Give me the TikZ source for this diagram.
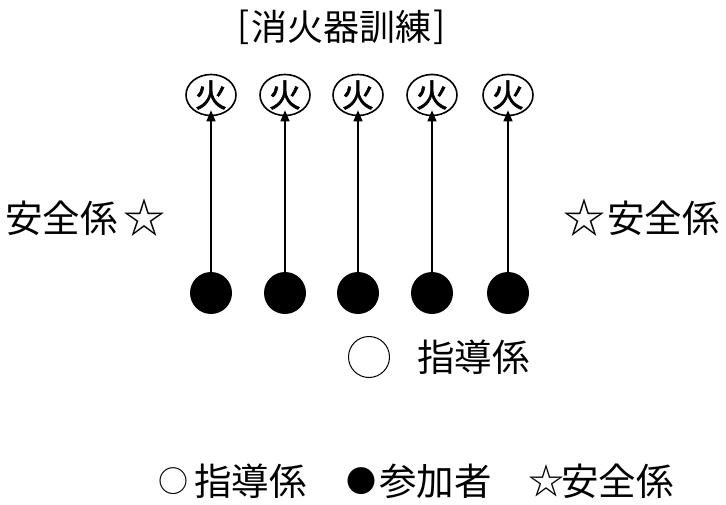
\documentclass[tikz,border=0pt]{standalone}
\usepackage{fontspec}
\setmainfont{Noto Sans CJK JP}
\newfontfamily\firefont[FakeBold=1.6]{Noto Sans CJK JP}
\usetikzlibrary{shapes.geometric,arrows.meta}
\begin{document}
\begin{tikzpicture}[x=1pt,y=-1pt,
  big/.style={font=\fontsize{37.5}{37.5}\selectfont, inner sep=0pt},
  sym/.style={font=\fontsize{42}{42}\selectfont, inner sep=0pt},
  legsym/.style={font=\fontsize{30}{30}\selectfont, inner sep=0pt},
  fire/.style={draw, line width=1.6pt, ellipse, minimum width=50pt, minimum height=37pt, inner sep=0pt, font=\firefont\fontsize{32}{32}\selectfont},
  person/.style={circle, fill=black, minimum size=42pt, inner sep=0pt},
  lead/.style={circle, draw, line width=1pt, minimum size=41pt, inner sep=0pt},
  arr/.style={line width=1.3pt, -{Triangle[length=11pt,width=9pt]}, shorten >=1pt}]
\useasboundingbox (0,0) rectangle (726,505);
\node[font=\fontsize{36}{36}\selectfont, inner sep=0pt] (title) at (341,27) {消火器訓練};
\node[font=\fontsize{36}{36}\selectfont, inner sep=0pt, anchor=east] (tl) at (250,27) {[};
\node[font=\fontsize{36}{36}\selectfont, inner sep=0pt, anchor=west] (tr) at (433,27) {]};
\foreach \i/\x in {1/211,2/285,3/358,4/432,5/508}{
  \node[fire] (f\i) at (\x,95) {火};
  \node[person] (p\i) at (\x,293) {};
  \draw[arr] (p\i.north) -- ([yshift=7pt]f\i.south);
}
\node[lead] (lead) at (369,357) {};
\node[big, anchor=west] (leadtxt) at (417,357) {指導係};
\node[big, anchor=west] (safeL) at (5,218) {安全係};
\node[sym] (starL) at (144,218) {☆};
\node[sym] (starR) at (584,218) {☆};
\node[big, anchor=east] (safeR) at (720,218) {安全係};
\node[legsym] (legA) at (173,481) {○};
\node[big, anchor=west] (legAt) at (194,481) {指導係};
\node[legsym] (legB) at (361,481) {●};
\node[big, anchor=west] (legBt) at (379,481) {参加者};
\node[font=\fontsize{36}{36}\selectfont, inner sep=0pt] (legC) at (546,481) {☆};
\node[big, anchor=west] (legCt) at (561,481) {安全係};
\end{tikzpicture}
\end{document}
